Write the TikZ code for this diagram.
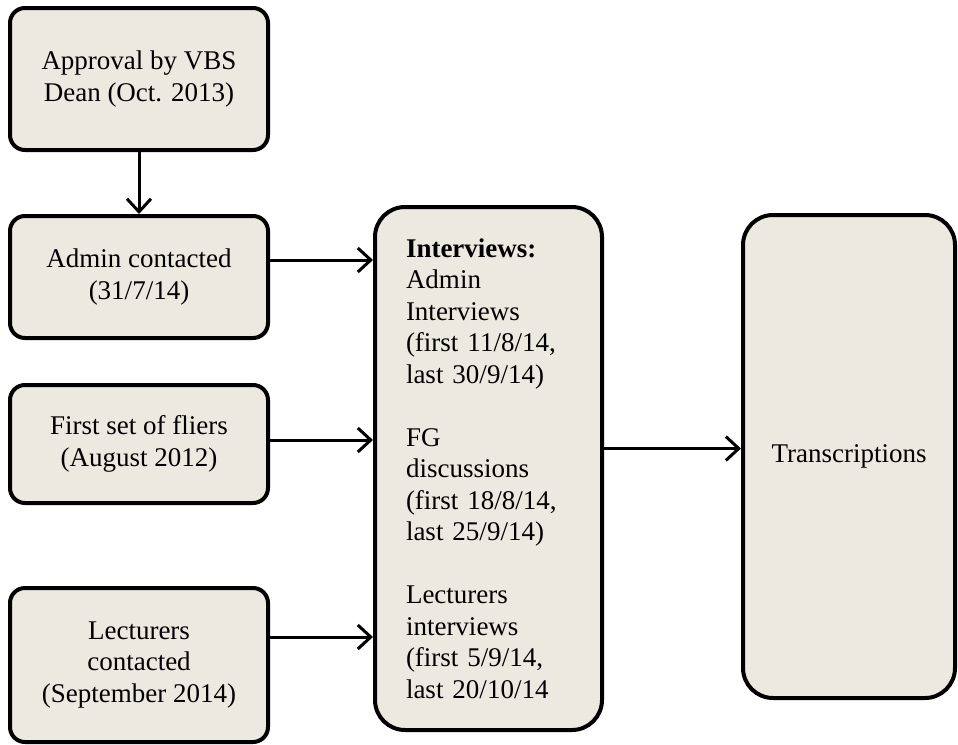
\documentclass[tikz,border=0pt]{standalone}
\usepackage{fontspec}
\setmainfont{Liberation Serif}
\usetikzlibrary{arrows.meta}
\definecolor{boxfill}{RGB}{236,233,224}
\tikzset{
  box/.style={draw=black, line width=4pt, fill=boxfill, rounded corners=15pt, align=center, inner sep=4pt,
    font=\fontsize{27}{31.5}\selectfont},
  bigbox/.style={box, rounded corners=30pt},
  arr/.style={line width=3pt, -{Straight Barb[length=13pt,width=24pt,line width=3pt]}}
}
\begin{document}
\begin{tikzpicture}[x=1pt,y=-1pt]
\useasboundingbox (0,0) rectangle (958,744);
\node[box, minimum width=258pt, minimum height=142pt] (b1) at (139,79) {Approval by VBS\\Dean (Oct. 2013)};
\node[box, minimum width=258pt, minimum height=122pt] (b2) at (139,277) {Admin contacted\\(31/7/14)};
\node[box, minimum width=258pt, minimum height=118pt] (b3) at (139,444) {First set of fliers\\(August 2012)};
\node[box, minimum width=258pt, minimum height=154pt] (b4) at (139,665) {Lecturers\\contacted\\(September 2014)};
\node[bigbox, minimum width=227pt, minimum height=523pt, text width=165pt, inner xsep=31pt, align=left] (ii) at (488.5,468.5)
  {\textbf{Interviews:}\\Admin\\Interviews\\(first 11/8/14,\\last 30/9/14)\\[31.5pt]FG\\discussions\\(first 18/8/14,\\last 25/9/14)\\[31.5pt]Lecturers\\interviews\\(first 5/9/14,\\last 20/10/14};
\node[bigbox, minimum width=212pt, minimum height=483pt] (tr) at (849,456.5) {Transcriptions};
\draw[arr] (b1.south) -- (b2.north);
\coordinate (a2) at ([yshift=17pt]b2.east);
\coordinate (a3) at ([yshift=4pt]b3.east);
\coordinate (a4) at ([yshift=28pt]b4.east);
\coordinate (a5) at ([yshift=20pt]ii.east);
\draw[arr] (a2) -- (a2 -| ii.west);
\draw[arr] (a3) -- (a3 -| ii.west);
\draw[arr] (a4) -- (a4 -| ii.west);
\draw[arr] (a5) -- (a5 -| tr.west);
\end{tikzpicture}
\end{document}
